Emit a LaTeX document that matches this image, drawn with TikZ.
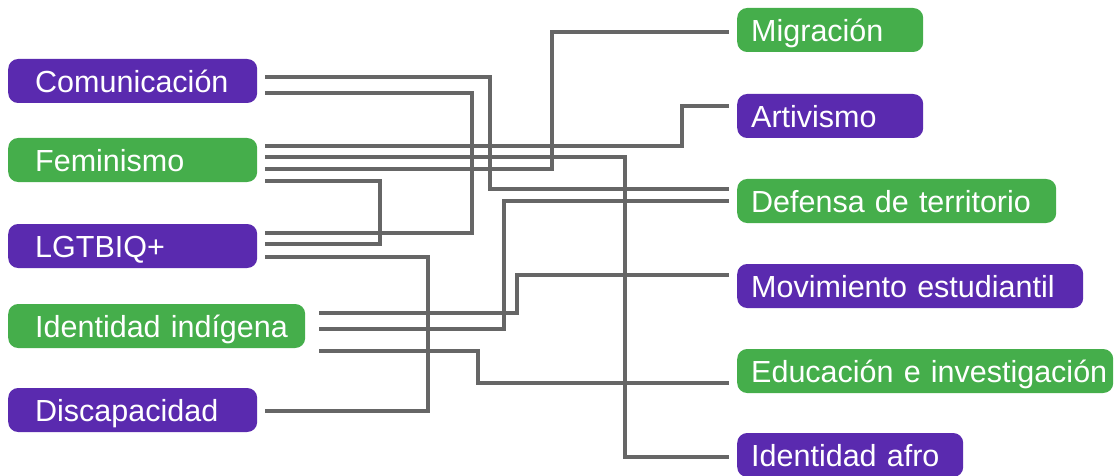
\documentclass[tikz,border=0pt]{standalone}
\usepackage{fontspec}
\setmainfont{Liberation Sans}
\definecolor{catpurple}{RGB}{90,42,175}
\definecolor{catgreen}{RGB}{69,174,75}
\definecolor{linkgray}{RGB}{102,102,102}
\tikzset{
  cat/.style={anchor=west, rounded corners=10pt, minimum height=44pt,
    inner ysep=0pt, text height=23pt, text depth=0pt, align=left,
    text=white, font=\fontsize{30.5}{36}\selectfont,
    execute at begin node=\hbox\bgroup, execute at end node=\egroup},
  lcat/.style={cat, inner xsep=27pt},
  rcat/.style={cat, inner xsep=14pt},
  link/.style={draw=linkgray, line width=4pt}
}
\begin{document}
\begin{tikzpicture}[x=1pt, y=-1pt]
  \def\Xl{8};
  \def\Xr{737};
  \useasboundingbox (0,0) rectangle (1114,476);

  % left column
  \node[lcat, fill=catpurple, text width=195pt] (com) at (\Xl, 81) {Comunicación};
  \node[lcat, fill=catgreen, text width=195pt] (fem) at (\Xl, 160) {Feminismo};
  \node[lcat, fill=catpurple, text width=195pt] (lgt) at (\Xl, 246) {LGTBIQ+};
  \node[lcat, fill=catgreen, text width=243pt] (ind) at (\Xl, 326) {Identidad indígena};
  \node[lcat, fill=catpurple, text width=195pt] (dis) at (\Xl, 410) {Discapacidad};

  % right column
  \node[rcat, fill=catgreen, text width=158pt] (mig) at (\Xr, 30) {Migración};
  \node[rcat, fill=catpurple, text width=158pt] (art) at (\Xr, 116) {Artivismo};
  \node[rcat, fill=catgreen, text width=291pt] (def) at (\Xr, 201) {Defensa de territorio};
  \node[rcat, fill=catpurple, text width=318pt] (mov) at (\Xr, 286) {Movimiento estudiantil};
  \node[rcat, fill=catgreen, text width=348pt] (edu) at (\Xr, 371) {Educación e investigación};
  \node[rcat, fill=catpurple, text width=198pt] (afro) at (\Xr, 455) {Identidad afro};

  % links
  \draw[link] ([shift={(8,-4)}]com.east) -| (490,189) -- ([shift={(-8,-12)}]def.west);
  \draw[link] ([shift={(8,12)}]com.east) -| (472,233) -- ([shift={(8,-13)}]lgt.east);
  \draw[link] ([shift={(8,-14)}]fem.east) -| (682,106) -- ([shift={(-8,-10)}]art.west);
  \draw[link] ([shift={(8,-3)}]fem.east) -| (625,457) -- ([shift={(-8,2)}]afro.west);
  \draw[link] ([shift={(8,9)}]fem.east) -| (552,32) -- ([shift={(-8,2)}]mig.west);
  \draw[link] ([shift={(8,21)}]fem.east) -| (380,244) -- ([shift={(8,-2)}]lgt.east);
  \draw[link] ([shift={(8,11)}]lgt.east) -| (428,411) -- ([shift={(8,1)}]dis.east);
  \draw[link] ([shift={(14,-13)}]ind.east) -| (517,275) -- ([shift={(-8,-11)}]mov.west);
  \draw[link] ([shift={(14,3)}]ind.east) -| (504,201) -- ([shift={(-8,0)}]def.west);
  \draw[link] ([shift={(14,25)}]ind.east) -| (478,383) -- ([shift={(-8,12)}]edu.west);
\end{tikzpicture}
\end{document}
